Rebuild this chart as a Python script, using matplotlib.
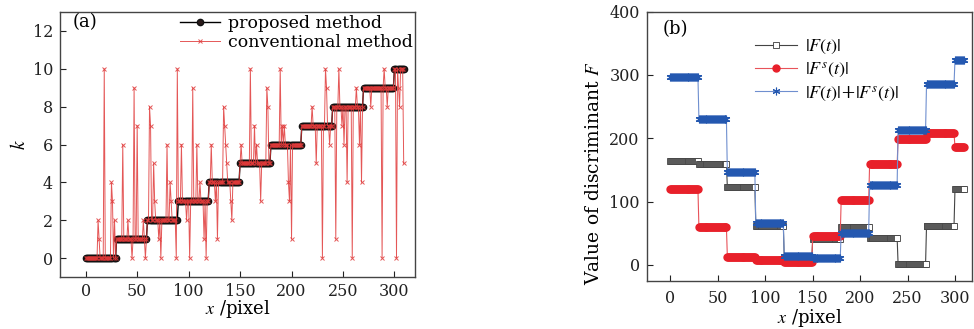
import matplotlib
matplotlib.use('Agg')
import matplotlib.pyplot as plt
import numpy as np

plt.rcParams['font.family'] = 'serif'
plt.rcParams['font.serif'] = ['DejaVu Serif', 'Liberation Serif']
plt.rcParams['mathtext.fontset'] = 'stix'
plt.rcParams['font.size'] = 11

# ---- data (a) ----
seg_len = [30, 30, 30, 30, 30, 30, 30, 30, 30, 30, 10]
k_levels = [0, 1, 2, 3, 4, 5, 6, 7, 8, 9, 10]

# 常规方法偏离阶梯的点 (x: k)
conv_x = [12, 13, 18, 25, 26, 28,
          36, 41, 45, 47, 50, 56, 58,
          62, 63, 66, 67, 71, 73, 79, 82, 83, 88, 89,
          93, 98, 101, 104, 108, 111, 115, 117,
          122, 126, 128, 134, 135, 136, 137, 141, 142,
          151, 160, 164, 166, 170, 176, 177,
          189, 191, 193, 197, 198, 200,
          220, 224, 230, 233, 234, 237,
          243, 246, 249, 251, 254, 259, 263, 266, 268,
          277, 288, 290, 293,
          302, 304, 305, 309]
conv_k = [2, 1, 10, 4, 3, 2,
          6, 2, 0, 9, 7, 2, 0,
          8, 7, 5, 3, 1, 0, 6, 4, 3, 0, 10,
          6, 2, 0, 9, 6, 4, 1, 0,
          6, 3, 1, 8, 7, 6, 5, 3, 2,
          6, 10, 7, 6, 3, 9, 8,
          10, 7, 7, 4, 3, 1,
          8, 5, 0, 10, 9, 6,
          1, 10, 7, 6, 4, 0, 9, 6, 4,
          8, 0, 10, 8,
          0, 9, 8, 5]

# ---- data (b) ----
F_abs = [164, 159, 123, 62, 10, 40, 59, 43, 2, 62, 120]
Fs_abs = [119, 60, 13, 7, 5, 45, 102, 159, 198, 208, 186]
F_sum = [297, 231, 146, 66, 14, 10, 51, 126, 213, 286, 323]

x = np.arange(sum(seg_len))
k_prop = np.repeat(k_levels, seg_len)
k_conv = k_prop.copy()
k_conv[conv_x] = conv_k

fig = plt.figure(figsize=(9.74, 3.29), dpi=100)
ax1 = fig.add_axes([0.0616, 0.158, 0.3645, 0.8055])
ax2 = fig.add_axes([0.664, 0.147, 0.334, 0.8176])

# (a)
ax1.plot(x, k_prop, color='black', lw=1.0, marker='o', ms=4.5,
         markerfacecolor='#2a1a1a', markeredgecolor='#111111',
         label='proposed method')
ax1.plot(x, k_conv, color='#e03a3a', lw=0.7, alpha=0.85, marker='x', ms=3,
         markeredgewidth=0.7, label='conventional method')
ax1.set_xlim(-25, 320)
ax1.set_ylim(-1, 13)
ax1.set_xticks(np.arange(0, 301, 50))
ax1.set_yticks(np.arange(0, 13, 2))
ax1.set_xlabel(r'$x$ /pixel', fontsize=13, labelpad=-1)
ax1.set_ylabel(r'$k$', fontsize=14, labelpad=3)
ax1.text(0.035, 0.962, '(a)', transform=ax1.transAxes, va='center', ha='left',
         fontsize=13)
ax1.legend(loc='upper right', frameon=False, fontsize=12.5, handlelength=2.3,
           handletextpad=0.45, borderaxespad=0.05, labelspacing=0.15,
           borderpad=0.1)

# (b)
ax2.plot(x, np.repeat(F_abs, seg_len), color='#444444', lw=0.8, marker='s',
         ms=4, markerfacecolor='white', markeredgecolor='#3a3a3a',
         markeredgewidth=0.6, label=r'$|F(t)|$')
ax2.plot(x, np.repeat(Fs_abs, seg_len), color='#e8535a', lw=0.8, marker='o',
         ms=5, markerfacecolor='#e8202a', markeredgecolor='#e8202a',
         label=r'$|F^s(t)|$')
ax2.plot(x, np.repeat(F_sum, seg_len), color='#6f8fcf', lw=0.8,
         marker=(6, 2, 0), ms=5.5, markeredgecolor='#2458b0',
         markeredgewidth=0.8, label=r'$|F(t)|$+$|F^s(t)|$')
ax2.set_xlim(-25, 318)
ax2.set_ylim(-25, 400)
ax2.set_xticks(np.arange(0, 301, 50))
ax2.set_yticks(np.arange(0, 401, 100))
ax2.set_xlabel(r'$x$ /pixel', fontsize=13, labelpad=0)
ax2.set_ylabel(r'Value of discriminant $F$', fontsize=13.5, labelpad=4)
ax2.yaxis.set_label_coords(-0.135, 0.40)
ax2.text(0.05, 0.935, '(b)', transform=ax2.transAxes, va='center', ha='left',
         fontsize=13)
ax2.legend(loc='upper left', bbox_to_anchor=(0.3, 0.945), frameon=False,
           fontsize=13, handlelength=2.3, handletextpad=0.45,
           labelspacing=0.2, borderpad=0.1)

for ax in (ax1, ax2):
    ax.tick_params(direction='in', length=4, width=0.8, labelsize=11.5,
                   colors='#222222', pad=5, top=False, right=False)
    for s in ax.spines.values():
        s.set_color('#444444')
        s.set_linewidth(1.0)
ax1.tick_params(axis='x', pad=4)
ax2.tick_params(axis='x', pad=7)

fig.savefig('out.png', dpi=100, facecolor='white')
